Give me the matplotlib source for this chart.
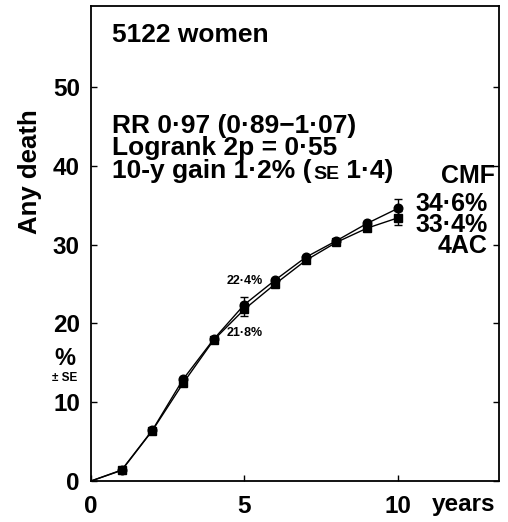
import matplotlib
matplotlib.use("Agg")
import matplotlib.pyplot as plt

plt.rcParams["font.family"] = ["Liberation Sans", "DejaVu Sans"]
plt.rcParams["font.weight"] = "bold"

# data
years = [0, 1, 2, 3, 4, 5, 6, 7, 8, 9, 10]
cmf = [0, 1.4, 6.45, 12.9, 18.0, 22.4, 25.5, 28.4, 30.5, 32.7, 34.6]
ac4 = [0, 1.35, 6.4, 12.4, 17.9, 21.8, 25.0, 28.0, 30.3, 32.1, 33.4]
se_years = [5, 10]
cmf_se = [0.9, 1.15]
ac4_se = [0.85, 0.85]

x_ticks = [0, 5, 10]
y_ticks = [0, 10, 20, 30, 40, 50]

fig = plt.figure(figsize=(5.08, 5.22), dpi=100)
ax = fig.add_axes([91 / 508, 1 - 481 / 522, 408 / 508, 475 / 522])

ax.plot(years, cmf, color="black", lw=1.0, zorder=2)
ax.plot(years, ac4, color="black", lw=1.0, zorder=2)
ax.plot(years[1:], cmf[1:], "o", color="black", ms=6.2, zorder=3)
ax.plot(years[1:], ac4[1:], "s", color="black", ms=5.2, zorder=3)

cmf_at = [cmf[years.index(y)] for y in se_years]
ac4_at = [ac4[years.index(y)] for y in se_years]
ax.errorbar(se_years, cmf_at, yerr=cmf_se, fmt="none", ecolor="black",
            elinewidth=1, capsize=3, capthick=1, zorder=2)
ax.errorbar(se_years, ac4_at, yerr=ac4_se, fmt="none", ecolor="black",
            elinewidth=1, capsize=3, capthick=1, zorder=2)

ax.set_xlim(0, 13.3)
ax.set_ylim(0, 60.3)
ax.set_xticks(x_ticks)
ax.set_yticks(y_ticks)
ax.tick_params(direction="in", length=4, width=1, labelsize=17.5,
               right=True, pad=8)
ax.tick_params(axis="x", pad=10)
for sp in ax.spines.values():
    sp.set_linewidth(1.3)

big = dict(fontsize=19, fontweight="bold", va="baseline")
ax.text(0.67, 55.7, "5122 women", ha="left", **big)
ax.text(0.67, 44.2, "RR 0·97 (0·89−1·07)", ha="left", **big)
ax.text(0.67, 41.4, "Logrank 2p = 0·55", ha="left", **big)
t = ax.text(0.67, 38.5, "10-y gain 1·2% (", ha="left", **big)
t = ax.annotate("SE", xy=(1, 0), xycoords=t, xytext=(1.5, 0),
                textcoords="offset points", fontsize=14, fontweight="bold",
                va="bottom", ha="left")
ax.annotate(" 1·4)", xy=(1, 0), xycoords=t, fontsize=19, fontweight="bold",
            va="bottom", ha="left")

ax.text(13.16, 37.8, "CMF", ha="right", fontsize=18, va="baseline")
ax.text(12.92, 34.3, "34·6%", ha="right", fontsize=18, va="baseline")
ax.text(12.92, 31.6, "33·4%", ha="right", fontsize=18, va="baseline")
ax.text(12.92, 28.9, "4AC", ha="right", fontsize=18, va="baseline")

ax.text(4.42, 25.0, "22·4%", ha="left", fontsize=9, va="baseline")
ax.text(4.42, 18.4, "21·8%", ha="left", fontsize=9, va="baseline")

ax.text(-0.85, 14.7, "%", ha="center", va="baseline", fontsize=17,
        clip_on=False)
ax.text(-0.85, 12.7, "± SE", ha="center", va="baseline", fontsize=8.5,
        clip_on=False)

ax.text(11.1, -1.5, "years", ha="left", va="top", fontsize=17.5,
        clip_on=False)

fig.text(30 / 508, 1 - 171.5 / 522, "Any death", rotation=90,
         ha="center", va="center", fontsize=18.5, fontweight="bold")

fig.savefig("out.png", dpi=100)
